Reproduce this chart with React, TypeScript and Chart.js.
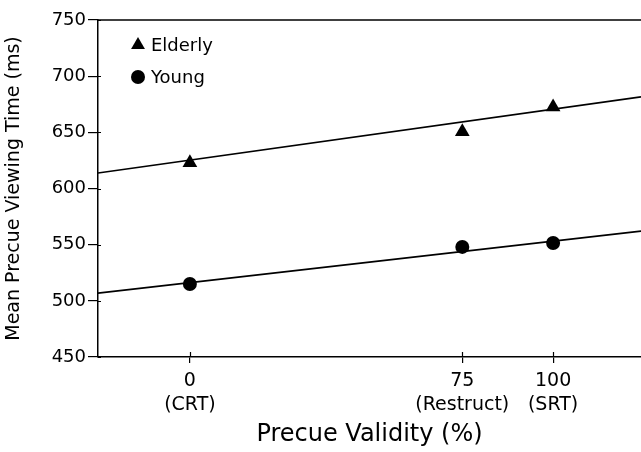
import React, { useEffect, useRef } from 'react';
import { Chart, registerables } from 'chart.js';

Chart.register(...registerables);

// ---- data ----
const validity = [0, 75, 100];
const validityNames = ['(CRT)', '(Restruct)', '(SRT)'];
const seriesNames = ['Elderly', 'Young'];
const elderly = [623, 650.5, 672.5];
const young = [515, 548, 551.5];
// fitted lines: [intercept, slope]
const elderlyFit = [625.3, 0.453];
const youngFit = [516.2, 0.369];
const xRange = [-25.3, 124.2];
const yRange = [450, 750];
const yStep = 50;

const FONT = "'DejaVu Sans', sans-serif";

const fitPoints = (fit: number[]) =>
  xRange.map((x) => ({ x, y: fit[0] + fit[1] * x }));

const extras = {
  id: 'extras',
  afterDatasetsDraw(chart: any) {
    const { ctx, chartArea: a, scales } = chart;
    const x = scales.x;
    const y = scales.y;
    ctx.save();
    ctx.strokeStyle = '#000';
    ctx.fillStyle = '#000';
    // top border
    ctx.lineWidth = 1.5;
    ctx.beginPath();
    ctx.moveTo(a.left, a.top);
    ctx.lineTo(a.right, a.top);
    ctx.stroke();
    // inner parts of tick marks
    ctx.lineWidth = 1.2;
    ctx.beginPath();
    x.ticks.forEach((t: any) => {
      const px = Math.round(x.getPixelForValue(t.value)) + 0.5;
      ctx.moveTo(px, a.bottom);
      ctx.lineTo(px, a.bottom - 5);
    });
    y.ticks.forEach((t: any) => {
      const py = Math.round(y.getPixelForValue(t.value)) + 0.5;
      ctx.moveTo(a.left, py);
      ctx.lineTo(a.left + 3, py);
    });
    ctx.stroke();
    // legend inside plot
    const lx = a.left + 40;
    const rows = [a.top + 25, a.top + 57];
    ctx.font = `18px ${FONT}`;
    ctx.textBaseline = 'middle';
    ctx.textAlign = 'left';
    rows.forEach((ly, i) => {
      const ds = chart.data.datasets[i];
      ctx.beginPath();
      if (ds.pointStyle === 'triangle') {
        const r = 8;
        ctx.moveTo(lx, ly - r);
        ctx.lineTo(lx + r * Math.cos(Math.PI / 6), ly + r / 2);
        ctx.lineTo(lx - r * Math.cos(Math.PI / 6), ly + r / 2);
        ctx.closePath();
      } else {
        ctx.arc(lx, ly, 7, 0, Math.PI * 2);
      }
      ctx.fill();
      ctx.fillText(ds.label, lx + 13, ly + 1);
    });
    ctx.restore();
  },
};

export default function App() {
  const ref = useRef<HTMLCanvasElement | null>(null);

  useEffect(() => {
    document.body.style.margin = '0';
    const canvas = ref.current;
    if (!canvas) return;
    const chart = new Chart(canvas, {
      type: 'scatter',
      data: {
        datasets: [
          {
            label: seriesNames[0],
            data: validity.map((x, i) => ({ x, y: elderly[i] })),
            pointStyle: 'triangle',
            pointRadius: 8.5,
            backgroundColor: '#000',
            borderColor: '#000',
            borderWidth: 0,
            order: 1,
          },
          {
            label: seriesNames[1],
            data: validity.map((x, i) => ({ x, y: young[i] })),
            pointStyle: 'circle',
            pointRadius: 7,
            backgroundColor: '#000',
            borderColor: '#000',
            borderWidth: 0,
            order: 1,
          },
          {
            label: seriesNames[0] + ' fit',
            type: 'line',
            data: fitPoints(elderlyFit),
            borderColor: '#000',
            borderWidth: 1.6,
            pointRadius: 0,
            showLine: true,
            order: 2,
          },
          {
            label: seriesNames[1] + ' fit',
            type: 'line',
            data: fitPoints(youngFit),
            borderColor: '#000',
            borderWidth: 1.6,
            pointRadius: 0,
            showLine: true,
            order: 2,
          },
        ] as any,
      },
      options: {
        animation: false,
        responsive: false,
        devicePixelRatio: 1,
        layout: { autoPadding: false, padding: { top: 20, right: 0, left: 0, bottom: 0 } },
        plugins: { legend: { display: false }, tooltip: { enabled: false } },
        scales: {
          x: {
            type: 'linear',
            min: xRange[0],
            max: xRange[1],
            afterBuildTicks: (s: any) => {
              s.ticks = validity.map((v) => ({ value: v }));
            },
            afterFit: (s: any) => {
              s.height = 95;
              s.paddingLeft = 0;
              s.paddingRight = 0;
            },
            ticks: {
              autoSkip: false,
              maxRotation: 0,
              color: '#000',
              padding: 6,
              font: { family: FONT, size: 19, lineHeight: 1.28 },
              callback: (v: any) => [String(v), validityNames[validity.indexOf(Number(v))]],
            },
            grid: { drawOnChartArea: false, tickLength: 6, color: '#000', lineWidth: 1.2 },
            border: { display: true, color: '#000', width: 1.5 },
            title: {
              display: true,
              text: 'Precue Validity (%)',
              color: '#000',
              font: { family: FONT, size: 24, lineHeight: 1.2 },
              padding: { top: 0, bottom: 3 },
            },
          },
          y: {
            min: yRange[0],
            max: yRange[1],
            afterFit: (s: any) => {
              s.width = 98;
            },
            ticks: {
              stepSize: yStep,
              color: '#000',
              padding: 2,
              font: { family: FONT, size: 18 },
            },
            grid: { drawOnChartArea: false, tickLength: 10, color: '#000', lineWidth: 1.2 },
            border: { display: true, color: '#000', width: 1.5 },
            title: {
              display: true,
              text: 'Mean Precue Viewing Time (ms)',
              color: '#000',
              font: { family: FONT, size: 19, lineHeight: 1.2 },
              padding: { top: 3, bottom: 0 },
            },
          },
        },
      } as any,
      plugins: [extras],
    });
    return () => chart.destroy();
  }, []);

  return (
    <div style={{ width: 641, height: 452 }}>
      <canvas ref={ref} width={641} height={452} style={{ display: 'block' }} />
    </div>
  );
}
